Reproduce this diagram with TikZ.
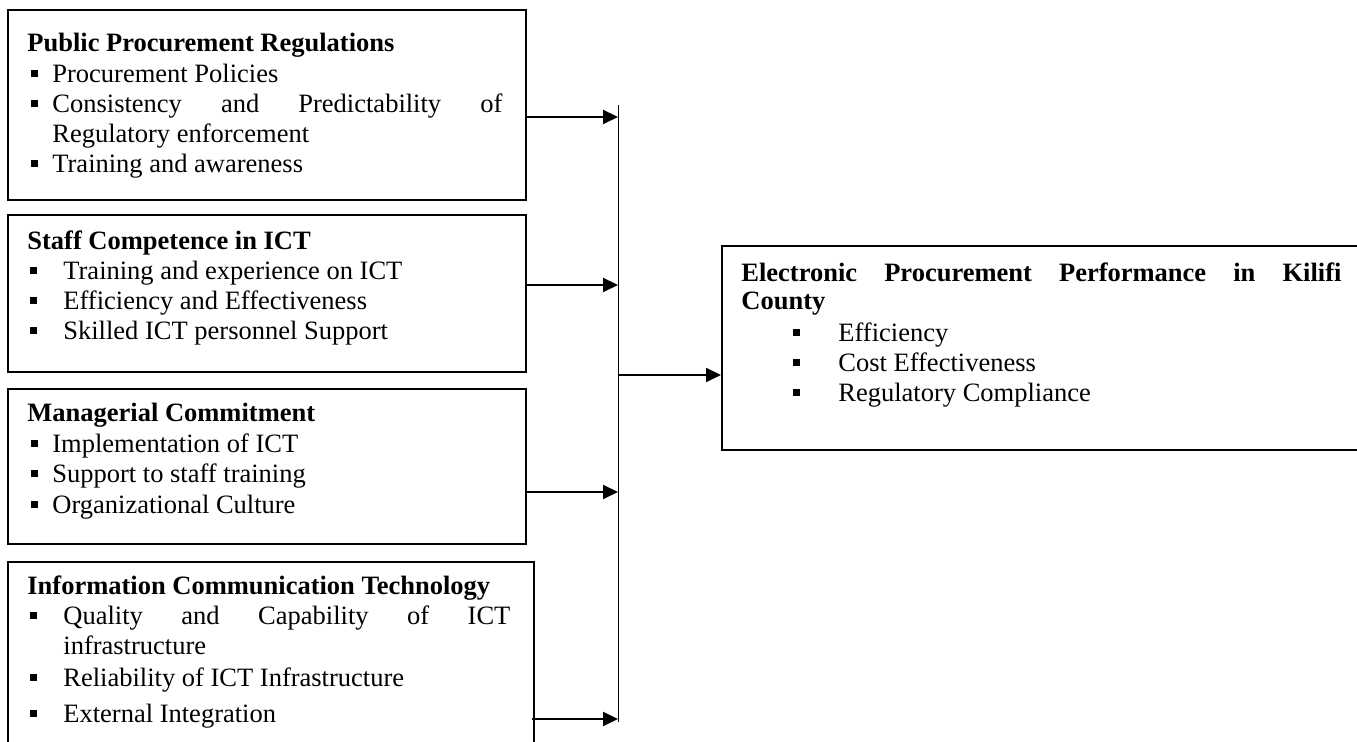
\documentclass[tikz,border=0pt]{standalone}
\usepackage{fontspec}
\setmainfont{Liberation Serif}
\usetikzlibrary{arrows.meta}
\newcommand\sqbul{\rule[3pt]{3.5pt}{3.5pt}}
\newcommand\bulA{\makebox[10.5pt][l]{\sqbul}}
\newcommand\bulB{\makebox[16.5pt][l]{\sqbul}}
\newcommand\bulC{\makebox[22.5pt][l]{\sqbul}}
\begin{document}
\begin{tikzpicture}[x=0.5pt,y=-0.5pt,
  box/.style={draw, line width=1.2pt, inner sep=0pt, anchor=north west},
  txt/.style={anchor=base west, inner sep=0pt, font=\fontsize{13.25}{15}\selectfont},
  arr/.style={line width=1pt, -{Triangle[length=7.5pt,width=7pt]}},
  vline/.style={line width=0.5pt}]
\useasboundingbox (0,0) rectangle (1357,742);
\clip (0,0) rectangle (1357,742);

% boxes
\node[box, minimum width=259pt, minimum height=95pt] (b1) at (7,9) {};
\node[box, minimum width=259pt, minimum height=78.5pt] (b2) at (7,214) {};
\node[box, minimum width=259pt, minimum height=77.5pt] (b3) at (7,388) {};
\node[box, minimum width=263pt, minimum height=100pt] (b4) at (7,561) {};
\node[box, minimum width=350pt, minimum height=102pt] (r) at (721,245) {};

% box 1 text
\node[txt] (t1) at (27,52) {\textbf{Public Procurement Regulations}};
\node[txt] (t1a) at (31,83) {\bulA Procurement Policies};
\node[txt] (t1b) at (31,113) {\bulA\makebox[225pt][s]{Consistency and Predictability of}};
\node[txt] (t1c) at (52,143) {Regulatory enforcement};
\node[txt] (t1d) at (31,173) {\bulA Training and awareness};

% box 2 text
\node[txt] (t2) at (27,250) {\textbf{Staff Competence in ICT}};
\node[txt] (t2a) at (30,280) {\bulB Training and experience on ICT};
\node[txt] (t2b) at (30,310) {\bulB Efficiency and Effectiveness};
\node[txt] (t2c) at (30,340) {\bulB Skilled ICT personnel Support};

% box 3 text
\node[txt] (t3) at (27,422) {\textbf{Managerial Commitment}};
\node[txt] (t3a) at (31,453) {\bulA Implementation of ICT};
\node[txt] (t3b) at (31,483) {\bulA Support to staff training};
\node[txt] (t3c) at (31,514) {\bulA Organizational Culture};

% box 4 text
\node[txt] (t4) at (27,595) {\textbf{Information Communication Technology}};
\node[txt] (t4a) at (30,625) {\bulB\makebox[223.5pt][s]{Quality and Capability of ICT}};
\node[txt] (t4b) at (63,655) {infrastructure};
\node[txt] (t4c) at (30,687) {\bulB Reliability of ICT Infrastructure};
\node[txt] (t4d) at (30,723) {\bulB External Integration};

% right box text
\node[txt] (tr) at (741,282) {\textbf{\makebox[300pt][s]{Electronic Procurement Performance in Kilifi}}};
\node[txt] (tr2) at (741,310) {\textbf{County}};
\node[txt] (tra) at (793,342) {\bulC Efficiency};
\node[txt] (trb) at (793,372) {\bulC Cost Effectiveness};
\node[txt] (trc) at (793,402) {\bulC Regulatory Compliance};

% connectors
\coordinate (vtop) at (618,105);
\coordinate (vbot) at (618,722);
\coordinate (v1) at (618,117);
\coordinate (v2) at (618,285);
\coordinate (v3) at (618,492);
\coordinate (v4) at (618,719);
\coordinate (v5) at (618,375);
\draw[vline] (vtop) -- (vbot);
\draw[arr] (b1.east |- v1) -- (v1);
\draw[arr] (b2.east |- v2) -- (v2);
\draw[arr] (b3.east |- v3) -- (v3);
\draw[arr] ([xshift=-1.5pt]b4.east |- v4) -- (v4);
\draw[arr] (v5) -- (v5 -| r.west);
\end{tikzpicture}
\end{document}
